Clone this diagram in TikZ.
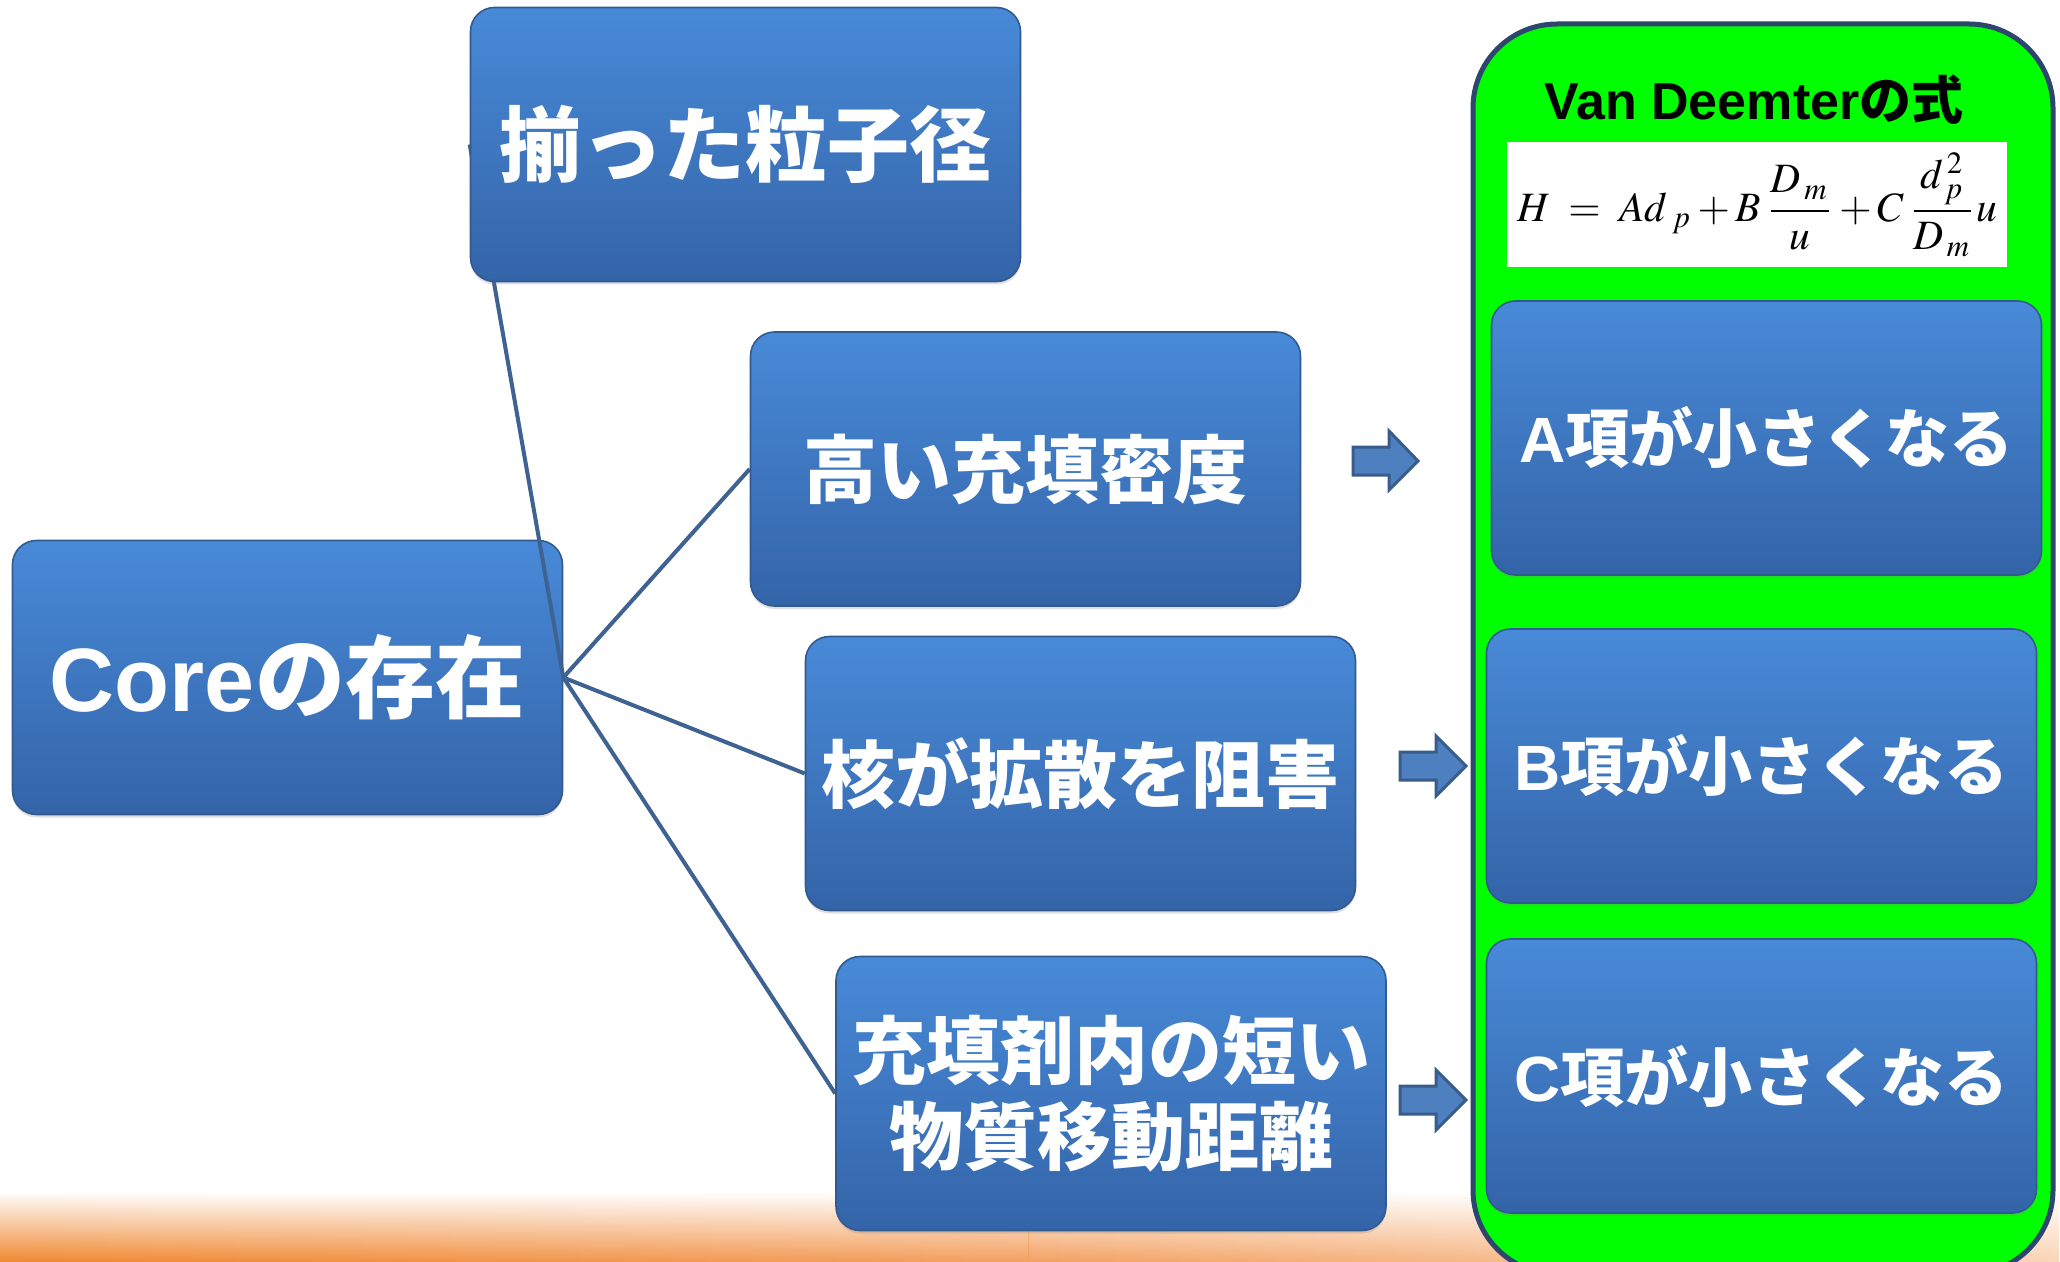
\documentclass[tikz,border=0pt]{standalone}
\usepackage{mathptmx}
\usepackage{fontspec}
\setmainfont{Liberation Sans}
\newfontfamily\jp{Noto Sans CJK JP}
\usepackage{graphicx}
\usetikzlibrary{fadings,shadows}
\definecolor{boxtop}{RGB}{72,138,216}
\definecolor{boxbot}{RGB}{52,100,168}
\definecolor{boxedge}{RGB}{50,90,145}
\definecolor{connc}{RGB}{62,98,146}
\definecolor{arrfill}{RGB}{78,128,192}
\definecolor{arredge}{RGB}{56,92,140}
\definecolor{panelgreen}{RGB}{0,255,0}
\definecolor{paneledge}{RGB}{45,70,110}
\definecolor{orA}{RGB}{240,136,48}
\definecolor{orM}{RGB}{244,160,96}
\definecolor{orB}{RGB}{250,212,182}
\tikzfading[name=fadeup, top color=transparent!100, bottom color=transparent!0]
\pgfdeclarelayer{back}
\pgfdeclarelayer{mid}
\pgfsetlayers{back,mid,main}
\tikzset{
  bluebox/.style={rectangle, rounded corners=12pt, top color=boxtop, bottom color=boxbot,
    draw=boxedge, line width=0.8pt, minimum width=275pt, minimum height=137pt,
    inner sep=0pt, text=white, align=center,
    drop shadow={opacity=0.25, shadow xshift=0pt, shadow yshift=-1.5pt}},
  bigtxt/.style={font=\fontsize{41}{46}\selectfont\bfseries},
  midtxt/.style={font=\fontsize{37}{43}\selectfont\bfseries},
  smalltxt/.style={font=\fontsize{32}{38}\selectfont\bfseries},
  connector/.style={draw=connc, line width=2pt},
  blockarrow/.style={fill=arrfill, draw=arredge, line width=1.5pt, line join=miter},
  panel/.style={rectangle, rounded corners=42pt, fill=panelgreen, draw=paneledge,
    line width=2.5pt, minimum width=290pt, minimum height=625pt, inner sep=0pt},
}
\begin{document}
\begin{tikzpicture}[x=0.5pt,y=-0.5pt]
\useasboundingbox (0,0) rectangle (2060,1262);
\clip (0,0) rectangle (2060,1262);
\begin{pgfonlayer}{back}
  \fill[white] (0,0) rectangle (2060,1262);
  \shade[left color=orA, right color=orM, path fading=fadeup] (0,1192) rectangle (1030,1262);
  \shade[left color=orM, right color=orB, path fading=fadeup] (1029,1192) rectangle (2060,1262);
  \node[bluebox, font=\fontsize{45}{50}\selectfont\bfseries] (core) at (287.5,677.5) {Core{\jp の存在}};
\end{pgfonlayer}

% green panel
\node[panel] (panel) at (1763,649) {};
\node[font=\fontsize{26}{30}\selectfont\bfseries, text=black, inner sep=0pt] (title) at (1754,100) {Van Deemter{\jp の式}};
\node[fill=white, minimum width=250pt, minimum height=62.5pt, inner sep=0pt] (formula) at (1757,204.5)
  {\resizebox*{240pt}{52pt}{$\displaystyle H \;=\; Ad_{\;p} + B\,\frac{D_{\,m}}{u} + C\,\frac{d_{\,p}^{\,2}}{D_{\,m}}u$}};

% left / middle boxes
\node[bluebox, bigtxt] (b1) at (745.5,144.5) {\jp 揃った粒子径};
\node[bluebox, midtxt] (b2) at (1025.5,469) {\jp 高い充填密度};
\node[bluebox, midtxt] (b3) at (1080.5,773.5) {\jp 核が拡散を阻害};
\node[bluebox, midtxt] (b4) at (1111,1093.5) {\jp 充填剤内の短い\\\jp 物質移動距離};

% right boxes
\node[bluebox, smalltxt] (ra) at (1766.5,438) {A{\jp 項が小さくなる}};
\node[bluebox, smalltxt] (rb) at (1761.5,766) {B{\jp 項が小さくなる}};
\node[bluebox, smalltxt] (rc) at (1761.5,1076) {C{\jp 項が小さくなる}};

% connectors
\begin{pgfonlayer}{mid}
  \draw[connector] (core.east) -- (b1.west);
  \draw[connector] (core.east) -- (b2.west);
  \draw[connector] (core.east) -- (b3.west);
  \draw[connector] (core.east) -- (b4.west);
\end{pgfonlayer}

% block arrows
\draw[blockarrow] (1353,447) -- (1389,447) -- (1389,431) -- (1418,461) -- (1389,490) -- (1389,475) -- (1353,475) -- cycle;
\draw[blockarrow] (1400,752) -- (1436,752) -- (1436,736) -- (1466,766) -- (1436,796) -- (1436,780) -- (1400,780) -- cycle;
\draw[blockarrow] (1400,1086) -- (1436,1086) -- (1436,1070) -- (1466,1100) -- (1436,1130) -- (1436,1114) -- (1400,1114) -- cycle;
\end{tikzpicture}
\end{document}
